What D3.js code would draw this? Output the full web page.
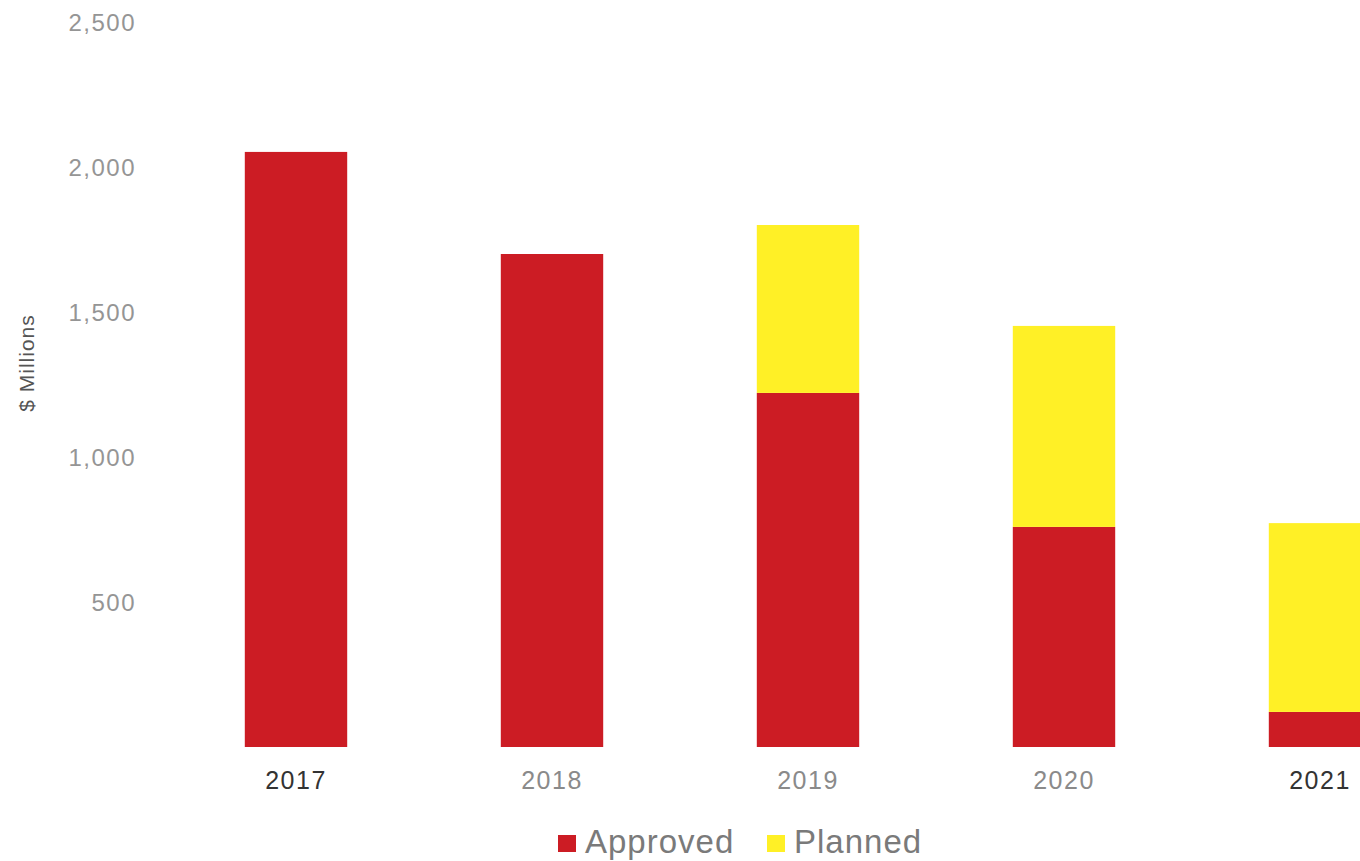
<!DOCTYPE html>
<html>
<head>
<meta charset="utf-8">
<script src="https://cdn.jsdelivr.net/npm/d3@7/dist/d3.min.js"></script>
<style>
  html, body { margin: 0; padding: 0; background: #fff; overflow: hidden; }
  svg { display: block; font-family: "Liberation Sans", Arial, sans-serif; }
</style>
</head>
<body>
<svg id="chart" width="1360" height="861"></svg>
<script>
// Capital spending by year, $ millions
const years = ["2017", "2018", "2019", "2020", "2021"];
const approved = [2052, 1700, 1221, 759, 121];
const planned = [0, 0, 579, 693, 651];
const seriesNames = ["Approved", "Planned"];
const seriesColors = ["#cc1c24", "#fff026"];
const yTicks = [500, 1000, 1500, 2000, 2500];
const yTickLabels = ["500", "1,000", "1,500", "2,000", "2,500"];
const yearLabelColors = ["#333", "#8a8a8a", "#8a8a8a", "#8a8a8a", "#333"];

const svg = d3.select("#chart");

const x = d3.scaleBand()
  .domain(years)
  .range([168, 1448])
  .paddingInner(0.6)
  .paddingOuter(0.3);

const y = d3.scaleLinear()
  .domain([0, 2500])
  .range([747, 22]);

// Stack the two series
const rows = years.map((yr, i) => ({ year: yr, Approved: approved[i], Planned: planned[i] }));
const stacked = d3.stack().keys(seriesNames)(rows);

svg.append("g")
  .selectAll("g")
  .data(stacked)
  .join("g")
  .attr("fill", (d, i) => seriesColors[i])
  .selectAll("rect")
  .data(d => d)
  .join("rect")
  .attr("x", d => x(d.data.year))
  .attr("width", x.bandwidth())
  .attr("y", d => y(d[1]))
  .attr("height", d => y(d[0]) - y(d[1]));

// Y axis: labels only
const yAxis = d3.axisLeft(y)
  .tickValues(yTicks)
  .tickFormat((d, i) => yTickLabels[i])
  .tickSize(0)
  .tickPadding(0);

const yg = svg.append("g")
  .attr("transform", "translate(136,0)")
  .call(yAxis);
yg.select(".domain").remove();
yg.selectAll("text")
  .attr("font-size", 24)
  .attr("fill", "#959595")
  .attr("dy", "0.35em")
  .style("letter-spacing", "1.5px")
  .style("font-family", "'Liberation Sans', Arial, sans-serif");

// X axis: year labels only
const xAxis = d3.axisBottom(x).tickSize(0).tickPadding(0);
const xg = svg.append("g")
  .attr("transform", "translate(0,771)")
  .call(xAxis);
xg.select(".domain").remove();
xg.selectAll("text")
  .attr("font-size", 25)
  .attr("dy", "0.71em")
  .attr("fill", (d, i) => yearLabelColors[i])
  .style("letter-spacing", "1.5px")
  .style("font-family", "'Liberation Sans', Arial, sans-serif");

// Y axis title
svg.append("text")
  .attr("transform", "translate(34,363) rotate(-90)")
  .attr("text-anchor", "middle")
  .attr("font-size", 21)
  .attr("fill", "#555")
  .style("letter-spacing", "1px")
  .text("$ Millions");

// Legend
const legendItems = [
  { name: seriesNames[0], color: seriesColors[0], x: 558 },
  { name: seriesNames[1], color: seriesColors[1], x: 767 }
];
const lg = svg.append("g");
legendItems.forEach(item => {
  lg.append("rect")
    .attr("x", item.x)
    .attr("y", 835)
    .attr("width", 18)
    .attr("height", 17)
    .attr("fill", item.color);
  lg.append("text")
    .attr("x", item.x + 27)
    .attr("y", 853)
    .attr("font-size", 33)
    .attr("fill", "#7a7a7a")
    .style("letter-spacing", "1px")
    .text(item.name);
});
</script>
</body>
</html>
